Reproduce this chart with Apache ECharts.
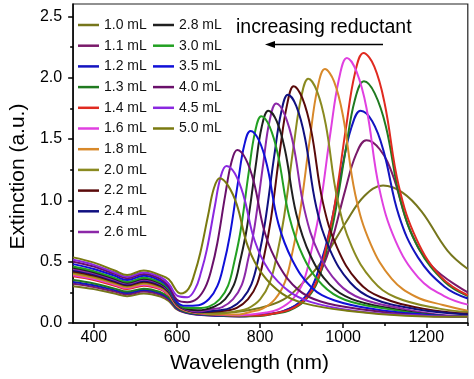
<!DOCTYPE html>
<html><head><meta charset="utf-8">
<script src="https://cdn.jsdelivr.net/npm/echarts@6/dist/echarts.min.js"></script>
<style>html,body{margin:0;padding:0;background:#fff}#c{width:474px;height:379px}</style>
</head><body><div id="c"></div>
<script>
// ---- tick labels ----
const xTickLabels = [400, 600, 800, 1000, 1200];
const xMinorTicks = [500, 700, 900, 1100, 1300];
const yTickLabels = [0, 0.5, 1.0, 1.5, 2.0, 2.5];
const yMinorTicks = [0.25, 0.75, 1.25, 1.75, 2.25];

// ---- series names & colours ----
const seriesNames = ['1.0 mL','1.1 mL','1.2 mL','1.3 mL','1.4 mL','1.6 mL','1.8 mL','2.0 mL','2.2 mL','2.4 mL','2.6 mL','2.8 mL','3.0 mL','3.5 mL','4.0 mL','4.5 mL','5.0 mL'];
const seriesColors = ['#76761c','#7a1a6a','#1414c0','#207a20','#e02a20','#e040e0','#d8892a','#8a8a20','#5a0a0a','#101080','#8c28a8','#202020','#22a022','#1010d8','#6a106a','#8a28e0','#7a7a10'];

// ---- spectra [wavelength nm, extinction] ----
const s1_0 = [[350,0.30],[400,0.276],[450,0.24],[480,0.219],[520,0.24],[560,0.216],[580,0.18],[600,0.11],[620,0.09],[650,0.08],[700,0.082],[721,0.084],[796,0.12],[856,0.19],[901,0.32],[946,0.49],[1006,0.817],[1051,1.035],[1096,1.12],[1143,1.063],[1189,0.908],[1251,0.59],[1300,0.44]];
const s1_1 = [[350,0.32],[400,0.294],[450,0.256],[480,0.234],[520,0.256],[560,0.23],[580,0.192],[600,0.115],[620,0.083],[650,0.067],[700,0.058],[750,0.053],[801,0.067],[844,0.086],[886,0.141],[920,0.241],[946,0.416],[971,0.647],[1005,1.083],[1031,1.374],[1056,1.49],[1088,1.416],[1119,1.21],[1161,0.756],[1214,0.462],[1300,0.25]];
const s1_2 = [[350,0.335],[400,0.308],[450,0.268],[480,0.245],[520,0.268],[560,0.241],[580,0.201],[600,0.121],[620,0.087],[650,0.07],[700,0.06],[750,0.054],[817,0.071],[855,0.095],[892,0.16],[922,0.277],[945,0.478],[967,0.749],[997,1.257],[1020,1.595],[1042,1.73],[1070,1.644],[1097,1.405],[1134,0.877],[1180,0.535],[1244,0.296],[1300,0.20]];
const s1_3 = [[350,0.35],[400,0.322],[450,0.28],[480,0.256],[520,0.28],[560,0.252],[580,0.21],[600,0.126],[620,0.091],[650,0.074],[700,0.063],[750,0.056],[800,0.058],[834,0.076],[870,0.102],[906,0.178],[935,0.311],[956,0.542],[978,0.85],[1007,1.43],[1028,1.816],[1050,1.97],[1076,1.872],[1103,1.60],[1138,1.0],[1182,0.608],[1244,0.336],[1300,0.22]];
const s1_4 = [[350,0.38],[400,0.35],[450,0.304],[480,0.277],[520,0.304],[560,0.274],[580,0.228],[600,0.137],[620,0.099],[650,0.08],[700,0.068],[750,0.061],[800,0.062],[839,0.082],[874,0.113],[909,0.196],[937,0.346],[958,0.604],[979,0.949],[1007,1.596],[1028,2.03],[1049,2.20],[1075,2.09],[1100,1.787],[1134,1.114],[1177,0.68],[1236,0.374],[1300,0.226]];
const s1_6 = [[350,0.39],[400,0.359],[450,0.312],[480,0.285],[520,0.312],[560,0.281],[580,0.234],[600,0.14],[620,0.101],[650,0.082],[700,0.07],[750,0.064],[814,0.085],[846,0.115],[879,0.196],[905,0.343],[924,0.596],[944,0.933],[970,1.567],[990,1.99],[1009,2.16],[1032,2.05],[1056,1.754],[1087,1.095],[1126,0.67],[1181,0.37],[1243,0.22],[1300,0.15]];
const s1_8 = [[350,0.40],[400,0.368],[450,0.32],[480,0.292],[520,0.32],[560,0.288],[580,0.24],[600,0.144],[620,0.104],[650,0.084],[700,0.072],[750,0.07],[776,0.09],[806,0.117],[836,0.195],[860,0.335],[878,0.58],[896,0.90],[920,1.505],[938,1.91],[956,2.07],[978,1.97],[1000,1.68],[1029,1.05],[1066,0.645],[1117,0.36],[1175,0.214],[1240,0.147],[1300,0.10]];
const s2_0 = [[350,0.41],[400,0.377],[450,0.328],[480,0.30],[520,0.328],[560,0.295],[580,0.246],[600,0.148],[620,0.107],[650,0.086],[700,0.076],[742,0.096],[771,0.12],[800,0.193],[823,0.327],[841,0.56],[858,0.87],[881,1.45],[899,1.84],[916,1.99],[937,1.89],[958,1.62],[986,1.01],[1021,0.62],[1070,0.35],[1126,0.21],[1231,0.117],[1300,0.09]];
const s2_2 = [[350,0.42],[400,0.386],[450,0.336],[480,0.307],[520,0.336],[560,0.302],[580,0.252],[600,0.151],[620,0.109],[650,0.088],[716,0.10],[744,0.124],[771,0.195],[793,0.32],[810,0.55],[826,0.845],[848,1.41],[865,1.78],[881,1.93],[902,1.83],[923,1.57],[951,0.985],[986,0.61],[1035,0.34],[1091,0.21],[1196,0.115],[1300,0.075]];
const s2_4 = [[350,0.43],[400,0.396],[450,0.344],[480,0.314],[520,0.344],[560,0.31],[580,0.258],[600,0.155],[620,0.112],[650,0.09],[702,0.104],[730,0.126],[757,0.195],[779,0.315],[796,0.53],[812,0.82],[834,1.36],[851,1.72],[867,1.86],[887,1.77],[908,1.51],[935,0.95],[969,0.59],[1017,0.33],[1071,0.20],[1173,0.115],[1300,0.07]];
const s2_6 = [[350,0.44],[400,0.405],[450,0.352],[480,0.321],[520,0.352],[560,0.317],[580,0.264],[600,0.158],[620,0.114],[650,0.094],[683,0.113],[709,0.13],[735,0.195],[756,0.31],[771,0.515],[787,0.79],[808,1.31],[823,1.65],[839,1.79],[859,1.70],[880,1.455],[907,0.92],[941,0.57],[989,0.32],[1043,0.20],[1145,0.115],[1230,0.067],[1300,0.053]];
const s2_8 = [[350,0.45],[400,0.414],[450,0.36],[480,0.329],[520,0.36],[560,0.324],[580,0.27],[600,0.162],[620,0.117],[650,0.103],[690,0.133],[716,0.195],[737,0.31],[752,0.505],[768,0.77],[789,1.27],[804,1.60],[820,1.73],[840,1.645],[860,1.41],[887,0.89],[921,0.55],[967,0.315],[1021,0.195],[1122,0.115],[1220,0.065],[1300,0.05]];
const s3_0 = [[350,0.46],[400,0.423],[450,0.368],[480,0.336],[520,0.368],[560,0.331],[580,0.276],[600,0.166],[620,0.125],[650,0.122],[678,0.136],[703,0.195],[723,0.305],[738,0.50],[753,0.75],[773,1.235],[788,1.56],[803,1.685],[823,1.60],[843,1.37],[870,0.87],[904,0.54],[950,0.31],[1004,0.19],[1105,0.115],[1210,0.065],[1300,0.05]];
const s3_5 = [[350,0.48],[400,0.44],[450,0.385],[480,0.35],[520,0.385],[560,0.345],[580,0.29],[600,0.17],[620,0.14],[652,0.145],[677,0.195],[697,0.30],[712,0.47],[727,0.71],[747,1.15],[762,1.45],[777,1.565],[797,1.49],[817,1.28],[844,0.81],[878,0.51],[924,0.29],[978,0.185],[1079,0.11],[1190,0.07],[1300,0.05]];
const s4_0 = [[350,0.50],[400,0.46],[450,0.40],[480,0.365],[520,0.40],[560,0.36],[580,0.30],[600,0.19],[625,0.17],[649,0.20],[668,0.29],[683,0.44],[697,0.65],[716,1.04],[731,1.31],[745,1.41],[765,1.34],[785,1.15],[812,0.73],[846,0.465],[892,0.27],[946,0.175],[1047,0.11],[1170,0.065],[1300,0.05]];
const s4_5 = [[350,0.515],[400,0.474],[450,0.412],[480,0.376],[520,0.412],[560,0.375],[580,0.32],[602,0.22],[625,0.21],[644,0.28],[658,0.415],[672,0.60],[691,0.95],[705,1.19],[719,1.28],[739,1.22],[760,1.04],[787,0.67],[821,0.43],[869,0.26],[923,0.17],[1025,0.10],[1150,0.065],[1300,0.05]];
const s5_0 = [[350,0.535],[400,0.492],[450,0.428],[480,0.391],[520,0.428],[560,0.39],[580,0.356],[609,0.24],[628,0.28],[642,0.40],[656,0.57],[675,0.88],[689,1.10],[703,1.18],[723,1.12],[744,0.965],[771,0.62],[805,0.40],[853,0.24],[907,0.16],[1009,0.10],[1150,0.06],[1300,0.05]];

const allSpectra = [s1_0,s1_1,s1_2,s1_3,s1_4,s1_6,s1_8,s2_0,s2_2,s2_4,s2_6,s2_8,s3_0,s3_5,s4_0,s4_5,s5_0];

const FONT = 'Liberation Sans, Arial, sans-serif';
const chart = echarts.init(document.getElementById('c'), null, {renderer: 'canvas'});

const series = allSpectra.map((d, i) => ({
  name: seriesNames[i], type: 'line', data: d, smooth: 0.4, showSymbol: false, symbol: 'none',
  xAxisIndex: 0, yAxisIndex: 0,
  lineStyle: {color: seriesColors[i], width: 2}, itemStyle: {color: seriesColors[i]}
}));

const legendCommon = {
  orient: 'vertical', icon: 'rect', itemWidth: 21, itemHeight: 2.5, itemGap: 6.7,
  textStyle: {fontFamily: FONT, fontSize: 14, color: '#111', lineHeight: 14}, padding: 0
};

chart.setOption({
  animation: false,
  backgroundColor: '#fff',
  grid: {left: 61, right: 6.2, top: 4, bottom: 49.5, show: true, borderColor: '#222', borderWidth: 1.2, backgroundColor: 'transparent'},
  legend: [
    Object.assign({}, legendCommon, {data: seriesNames.slice(0, 11), left: 78, top: 18}),
    Object.assign({}, legendCommon, {data: seriesNames.slice(11), left: 153, top: 18})
  ],
  xAxis: [
    {type: 'value', min: 350, max: 1300, position: 'bottom',
     name: 'Wavelength (nm)', nameLocation: 'middle', nameGap: 30,
     nameTextStyle: {fontFamily: FONT, fontSize: 21, color: '#000', padding: [0, 42, 0, 0]},
     axisLine: {show: true, lineStyle: {color: '#000', width: 1.5}},
     axisTick: {show: true, inside: false, length: 5, customValues: xTickLabels, lineStyle: {color: '#000', width: 1.5}},
     axisLabel: {customValues: xTickLabels, formatter: v => String(v), fontFamily: FONT, fontSize: 16, color: '#000', margin: 7},
     splitLine: {show: false}},
    {type: 'value', min: 350, max: 1300, position: 'bottom',
     axisLine: {show: false},
     axisTick: {show: true, inside: false, length: 3, customValues: xMinorTicks, lineStyle: {color: '#000', width: 1.5}},
     axisLabel: {show: false}, splitLine: {show: false}}
  ],
  yAxis: [
    {type: 'value', min: 0, max: 2.6, position: 'left',
     name: 'Extinction (a.u.)', nameLocation: 'middle', nameGap: 38,
     nameTextStyle: {fontFamily: FONT, fontSize: 21, color: '#000', padding: [0, 26, 0, 0]},
     axisLine: {show: true, lineStyle: {color: '#000', width: 1.5}},
     axisTick: {show: true, inside: false, length: 5, customValues: yTickLabels, lineStyle: {color: '#000', width: 1.5}},
     axisLabel: {customValues: yTickLabels, formatter: v => v.toFixed(1), fontFamily: FONT, fontSize: 16, color: '#000', margin: 11},
     splitLine: {show: false}},
    {type: 'value', min: 0, max: 2.6, position: 'left',
     axisLine: {show: false},
     axisTick: {show: true, inside: false, length: 3, customValues: yMinorTicks, lineStyle: {color: '#000', width: 1.5}},
     axisLabel: {show: false}, splitLine: {show: false}}
  ],
  graphic: [
    {type: 'text', left: 236, top: 18, style: {text: 'increasing reductant', font: '19.5px ' + FONT, fill: '#000'}},
    {type: 'line', shape: {x1: 383, y1: 44.5, x2: 272, y2: 44.5}, style: {stroke: '#000', lineWidth: 1.6}},
    {type: 'polygon', shape: {points: [[265, 44.5], [275, 41], [275, 48]]}, style: {fill: '#000'}}
  ],
  series: series
});
</script>
</body></html>
